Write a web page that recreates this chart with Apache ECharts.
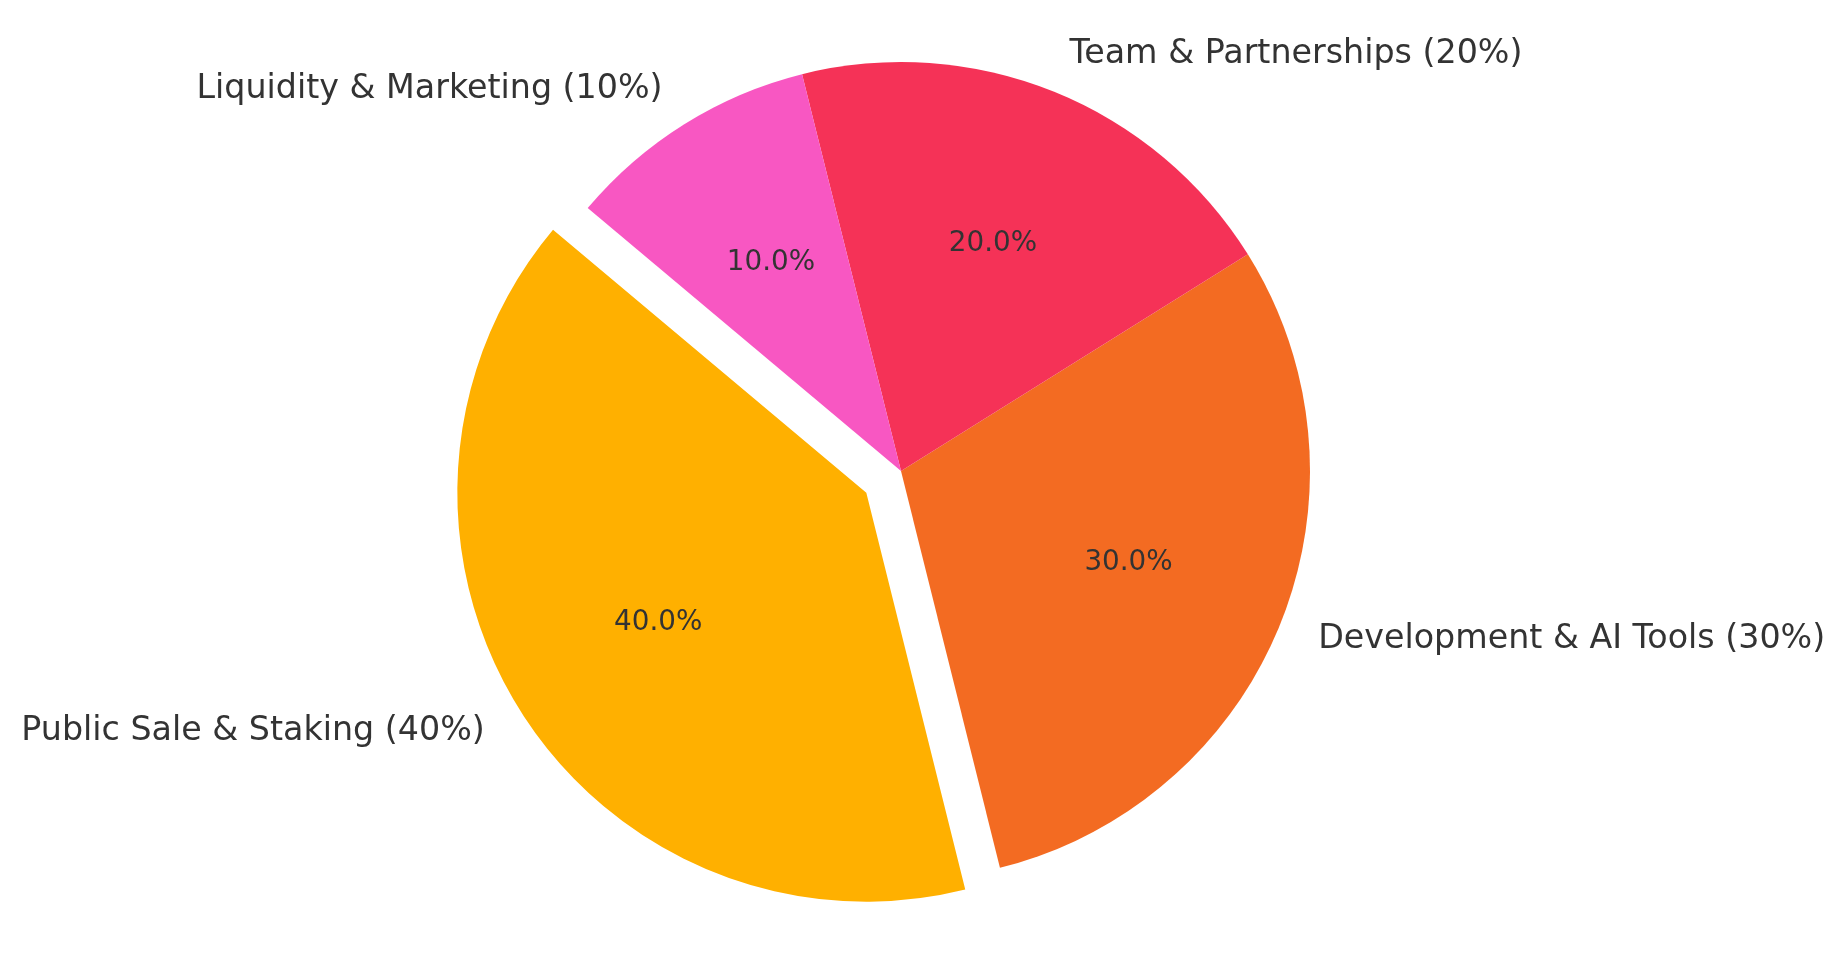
<!DOCTYPE html>
<html>
<head>
<meta charset="utf-8">
<script src="https://cdn.jsdelivr.net/npm/echarts@6/dist/echarts.min.js"></script>
<style>
html, body { margin: 0; padding: 0; background: #fff; }
#chart { width: 1846px; height: 964px; }
</style>
</head>
<body>
<div id="chart"></div>
<script>
const labels = ['Public Sale & Staking (40%)', 'Development & AI Tools (30%)', 'Team & Partnerships (20%)', 'Liquidity & Marketing (10%)']
const values = [40, 30, 20, 10]
const colors = ['#FFB000', '#F36B22', '#F53257', '#F857C2']
const exploded = [true, false, false, false]

const R = 409
const cx = 901
const cy = 471

const mychart = echarts.init(document.getElementById('chart'))

const slices = labels.map((name, i) => ({
  name: name,
  value: values[i],
  selected: exploded[i],
  itemStyle: { color: colors[i] }
}))

mychart.setOption({
  animation: false,
  series: [
    {
      // wedges + outer labels (at 1.1 r)
      type: 'pie',
      center: [cx, cy],
      radius: [0, R],
      startAngle: 140,
      clockwise: false,
      selectedMode: 'multiple',
      selectedOffset: R * 0.1,
      avoidLabelOverlap: false,
      emphasis: { disabled: true },
      silent: true,
      label: {
        show: true,
        position: 'outside',
        formatter: '{b}',
        fontFamily: 'DejaVu Sans',
        fontSize: 33.3,
        color: '#333333',
        distanceToLabelLine: 0
      },
      labelLine: { show: false, length: R * 0.1, length2: 0 },
      data: slices
    },
    {
      // percentage labels (at 0.6 r, echarts pushes inside labels 3px out)
      type: 'pie',
      center: [cx, cy],
      radius: [R * 0.2 - 6, R],
      startAngle: 140,
      clockwise: false,
      selectedMode: 'multiple',
      selectedOffset: R * 0.1,
      avoidLabelOverlap: false,
      emphasis: { disabled: true },
      silent: true,
      itemStyle: { color: 'rgba(0,0,0,0)' },
      label: {
        show: true,
        position: 'inside',
        formatter: p => p.percent.toFixed(1) + '%',
        fontFamily: 'DejaVu Sans',
        fontSize: 27.8,
        color: '#333333'
      },
      labelLine: { show: false },
      data: labels.map((name, i) => ({ name: name, value: values[i], selected: exploded[i] }))
    }
  ]
})
</script>
</body>
</html>
